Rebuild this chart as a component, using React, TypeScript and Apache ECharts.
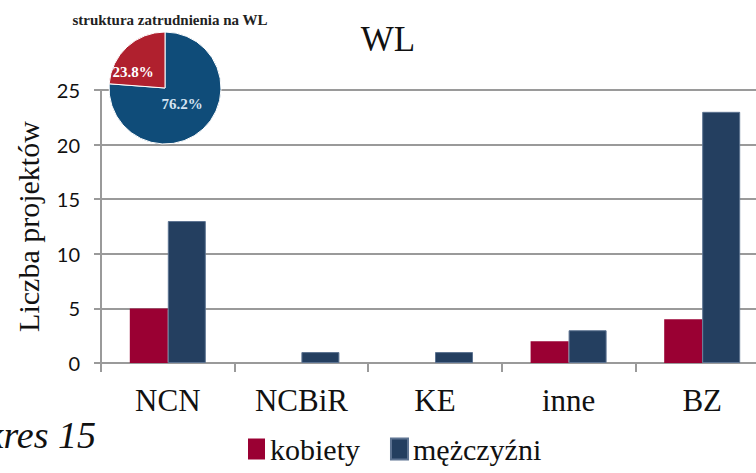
import React, { useEffect, useRef } from "react";
import * as echarts from "echarts";

const categories = ["NCN", "NCBiR", "KE", "inne", "BZ"];
const kobiety = [5, 0, 0, 2, 4];
const mezczyzni = [13, 1, 1, 3, 23];
const seriesNames = ["kobiety", "mężczyźni"];
const yTicks = [0, 5, 10, 15, 20, 25];
const pieNames = ["mężczyźni", "kobiety"];
const pieValues = [76.2, 23.8];

export default function App() {
  const ref = useRef<HTMLDivElement>(null);
  useEffect(() => {
    if (!ref.current) return;
    const chart = echarts.init(ref.current, null, { renderer: "svg" });
    const serif = "'Liberation Serif', 'DejaVu Serif', serif";
    const grey = "#9a9a9a";
    chart.setOption({
      animation: false,
      backgroundColor: "#ffffff",
      grid: {
        left: 101,
        top: 90,
        bottom: 110,
        width: 668,
        containLabel: false,
        outerBoundsMode: "none",
      },
      legend: {
        data: seriesNames,
        bottom: 4,
        left: 243,
        itemWidth: 17,
        itemHeight: 21,
        itemGap: 30,
        icon: "rect",
        textStyle: { fontFamily: serif, fontSize: 30, color: "#111" },
      },
      xAxis: {
        type: "category",
        data: categories,
        axisLine: { lineStyle: { color: grey, width: 2 } },
        axisTick: { show: true, length: 9, interval: 0, lineStyle: { color: grey, width: 2 } },
        axisLabel: { fontFamily: serif, fontSize: 31, color: "#111", margin: 22 },
      },
      yAxis: {
        type: "value",
        min: yTicks[0],
        max: yTicks[yTicks.length - 1],
        interval: 5,
        name: "Liczba projektów",
        nameLocation: "middle",
        nameGap: 58,
        nameTextStyle: { fontFamily: serif, fontSize: 30, color: "#111" },
        axisLine: { show: true, lineStyle: { color: grey, width: 2 } },
        axisTick: { show: true, length: 7, lineStyle: { color: grey, width: 2 } },
        axisLabel: { fontFamily: "Lato, 'Open Sans', sans-serif", fontSize: 20, color: "#111", margin: 21 },
        splitLine: { lineStyle: { color: grey, width: 2 } },
      },
      series: [
        {
          name: seriesNames[0],
          type: "bar",
          data: kobiety,
          barWidth: 38,
          barGap: "0%",
          itemStyle: { color: "#9A0033" },
          z: 2,
        },
        {
          name: seriesNames[1],
          type: "bar",
          data: mezczyzni,
          barWidth: 38,
          barGap: "0%",
          itemStyle: { color: "#243F60", borderColor: "#5d7391", borderWidth: 1 },
          z: 2,
        },
        {
          type: "pie",
          center: [165, 88],
          radius: 56,
          startAngle: 90,
          clockwise: true,
          z: 5,
          silent: true,
          label: { show: false },
          labelLine: { show: false },
          itemStyle: { borderColor: "#ffffff", borderWidth: 1 },
          data: [
            { name: pieNames[0], value: pieValues[0], itemStyle: { color: "#0F4C79" } },
            { name: pieNames[1], value: pieValues[1], itemStyle: { color: "#B0202E" } },
          ],
        },
      ],
      graphic: [
        {
          type: "text",
          x: 388,
          y: 39,
          z: 10,
          style: {
            text: "WL",
            font: `35px ${serif}`,
            fill: "#111",
            textAlign: "center",
            textVerticalAlign: "middle",
          },
        },
        {
          type: "text",
          x: 170,
          y: 20,
          z: 10,
          style: {
            text: "struktura zatrudnienia na WL",
            font: `bold 15px ${serif}`,
            fill: "#222",
            textAlign: "center",
            textVerticalAlign: "middle",
          },
        },
        {
          type: "text",
          x: 133,
          y: 72,
          z: 10,
          style: {
            text: `${pieValues[1]}%`,
            font: `bold 15px ${serif}`,
            fill: "#ffffff",
            textAlign: "center",
            textVerticalAlign: "middle",
          },
        },
        {
          type: "text",
          x: 182,
          y: 104,
          z: 10,
          style: {
            text: `${pieValues[0]}%`,
            font: `bold 15px ${serif}`,
            fill: "#d4e3f1",
            textAlign: "center",
            textVerticalAlign: "middle",
          },
        },
        {
          type: "text",
          x: 96,
          y: 435,
          z: 10,
          style: {
            text: "Wykres 15",
            font: `italic 38px ${serif}`,
            fill: "#111",
            textAlign: "right",
            textVerticalAlign: "middle",
          },
        },
      ],
    });
    return () => chart.dispose();
  }, []);
  return (
    <div
      ref={ref}
      style={{ position: "fixed", left: 0, top: 0, width: 756, height: 473 }}
    />
  );
}
